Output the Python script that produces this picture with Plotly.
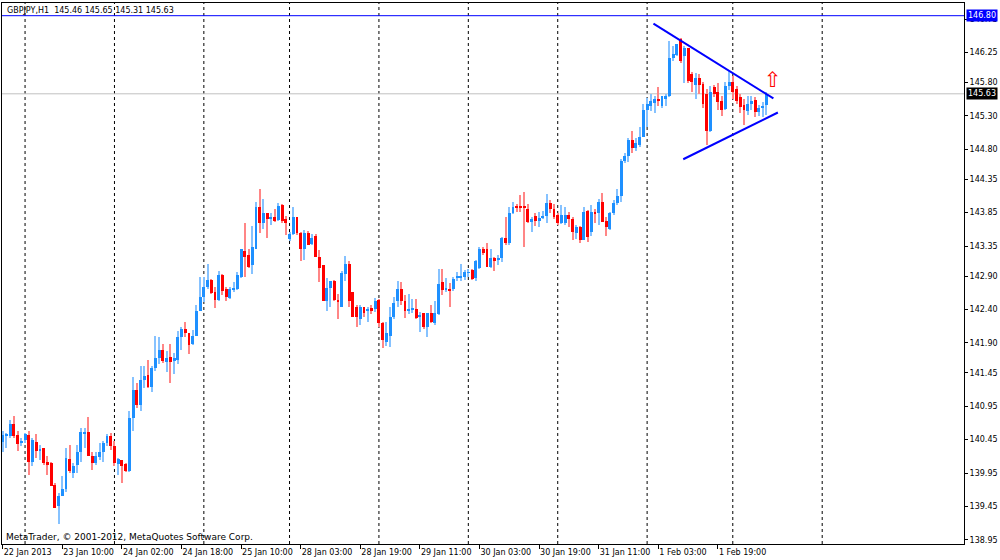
import plotly.graph_objects as go

# GBPJPY H1 candles, first bar = 22 Jan 2013 18:00
opens = [
    140.41, 140.50, 140.50, 140.69, 140.52, 140.40, 140.45, 140.52, 140.11, 140.41,
    140.28, 140.32, 140.11, 140.10, 139.77, 139.45, 139.60, 139.71, 140.16, 139.95,
    140.07, 140.27, 140.54, 140.57, 140.20, 140.10, 140.19, 140.27, 140.40, 140.50,
    140.35, 140.08, 140.14, 140.08, 139.98, 140.78, 141.19, 140.97, 141.34, 141.42,
    141.24, 141.53, 141.67, 141.80, 141.62, 141.69, 141.63, 141.65, 141.98, 142.11,
    142.04, 141.88, 142.00, 142.38, 142.58, 142.73, 142.84, 142.66, 142.54, 142.92,
    142.70, 142.57, 142.70, 142.71, 142.89, 143.27, 143.21, 143.06, 143.31, 143.94,
    143.70, 143.84, 143.76, 143.78, 143.74, 143.97, 143.75, 143.45, 143.53, 143.78,
    143.54, 143.31, 143.55, 143.38, 143.50, 143.19, 143.06, 142.52, 142.72, 142.83,
    142.54, 142.43, 142.93, 143.08, 142.66, 142.43, 142.26, 142.43, 142.37, 142.42,
    142.40, 142.54, 142.19, 141.92, 142.00, 142.29, 142.52, 142.71, 142.52, 142.38,
    142.40, 142.41, 142.28, 142.34, 142.13, 142.34, 142.19, 142.33, 142.81, 142.69,
    142.71, 142.71, 142.88, 142.88, 142.88, 142.95, 142.99, 142.87, 143.02, 143.31,
    143.31, 143.04, 143.17, 143.15, 143.17, 143.47, 143.39, 143.85, 143.94, 143.94,
    143.94, 143.90, 143.71, 143.80, 143.73, 143.77, 143.80, 143.99, 143.91, 143.81,
    143.70, 143.69, 143.82, 143.76, 143.54, 143.63, 143.44, 143.88, 143.56, 143.85,
    143.85, 144.01, 143.73, 143.60, 143.85, 144.00, 144.10, 144.63, 144.70, 144.94,
    144.82, 144.87, 144.99, 145.39, 145.45, 145.49, 145.55, 145.45, 145.55, 145.59,
    146.17, 146.21, 146.45, 146.20, 146.31, 145.92, 145.76, 145.86, 145.78, 145.62,
    145.07, 145.73, 145.66, 145.52, 145.40, 145.74, 145.81, 145.70, 145.58, 145.46,
    145.37, 145.47, 145.53, 145.36, 145.42, 145.46,
]
highs = [
    140.58, 140.55, 140.75, 140.80, 140.58, 140.47, 140.55, 140.58, 140.48, 140.53,
    140.37, 140.33, 140.20, 140.12, 139.80, 139.65, 139.90, 140.33, 140.37, 140.10,
    140.37, 140.63, 140.63, 140.79, 140.27, 140.27, 140.40, 140.43, 140.53, 140.55,
    140.43, 140.17, 140.15, 140.10, 140.88, 141.39, 141.30, 141.55, 141.55, 141.64,
    141.55, 142.00, 141.98, 141.89, 141.78, 141.88, 141.75, 142.07, 142.13, 142.21,
    142.05, 142.09, 142.46, 142.88, 142.88, 143.08, 142.86, 142.74, 142.97, 142.93,
    142.74, 142.73, 142.81, 142.96, 143.31, 143.70, 143.31, 143.65, 144.01, 144.20,
    144.05, 143.85, 143.84, 143.90, 143.99, 143.98, 143.80, 143.56, 143.94, 143.79,
    143.56, 143.59, 143.58, 143.53, 143.53, 143.29, 143.06, 142.87, 142.83, 142.84,
    142.63, 142.97, 143.20, 143.12, 142.66, 142.46, 142.46, 142.44, 142.43, 142.46,
    142.57, 142.56, 142.21, 142.21, 142.43, 142.58, 142.83, 142.81, 142.61, 142.63,
    142.55, 142.56, 142.36, 142.35, 142.35, 142.47, 142.52, 143.01, 143.01, 142.87,
    142.79, 142.88, 142.96, 143.08, 142.99, 143.00, 143.01, 143.14, 143.33, 143.33,
    143.40, 143.31, 143.18, 143.21, 143.49, 143.79, 143.93, 144.01, 143.98, 144.11,
    144.16, 143.98, 143.79, 143.85, 143.86, 143.88, 144.13, 144.04, 143.98, 143.84,
    143.96, 143.94, 143.86, 143.79, 143.66, 143.65, 143.94, 143.89, 143.96, 143.91,
    144.05, 144.15, 143.78, 143.86, 144.04, 144.20, 144.65, 144.75, 144.97, 145.08,
    144.97, 145.14, 145.47, 145.57, 145.62, 145.60, 145.73, 145.60, 145.62, 146.42,
    146.35, 146.37, 146.47, 146.35, 146.32, 145.95, 145.94, 145.92, 145.80, 145.70,
    145.75, 145.76, 145.79, 145.60, 145.80, 145.97, 145.90, 145.74, 145.62, 145.55,
    145.60, 145.60, 145.58, 145.46, 145.50, 145.65,
]
lows = [
    140.27, 140.33, 140.47, 140.48, 140.28, 140.35, 140.40, 139.92, 140.05, 140.17,
    140.15, 140.07, 139.92, 139.75, 139.42, 139.18, 139.60, 139.67, 139.95, 139.87,
    139.95, 140.12, 140.32, 140.20, 140.00, 140.07, 140.15, 140.12, 140.35, 140.30,
    140.05, 139.92, 139.80, 139.96, 139.97, 140.58, 140.93, 140.88, 141.23, 141.22,
    141.17, 141.48, 141.59, 141.60, 141.47, 141.30, 141.44, 141.59, 141.80, 141.98,
    141.73, 141.87, 142.00, 142.37, 142.51, 142.71, 142.63, 142.42, 142.53, 142.61,
    142.52, 142.56, 142.66, 142.69, 142.87, 142.89, 143.02, 142.93, 143.30, 143.55,
    143.60, 143.47, 143.66, 143.71, 143.73, 143.70, 143.51, 143.43, 143.51, 143.51,
    143.13, 143.14, 143.36, 143.37, 143.18, 142.81, 142.52, 142.37, 142.43, 142.52,
    142.26, 142.43, 142.83, 142.43, 142.28, 142.13, 142.17, 142.28, 142.21, 142.33,
    142.36, 142.13, 141.83, 141.85, 141.84, 142.26, 142.43, 142.47, 142.27, 142.33,
    142.35, 142.25, 142.06, 142.10, 141.99, 142.20, 142.16, 142.31, 142.61, 142.66,
    142.44, 142.68, 142.83, 142.83, 142.84, 142.88, 142.84, 142.83, 143.01, 143.22,
    143.03, 143.02, 142.98, 143.06, 143.11, 143.37, 143.37, 143.83, 143.86, 143.86,
    143.33, 143.70, 143.56, 143.65, 143.64, 143.75, 143.69, 143.84, 143.76, 143.66,
    143.68, 143.66, 143.64, 143.44, 143.46, 143.39, 143.44, 143.41, 143.50, 143.69,
    143.66, 143.71, 143.50, 143.59, 143.81, 143.96, 144.01, 144.60, 144.61, 144.75,
    144.78, 144.84, 144.98, 145.14, 145.37, 145.35, 145.44, 145.42, 145.45, 145.58,
    146.12, 146.20, 146.09, 145.79, 145.79, 145.66, 145.55, 145.62, 145.42, 144.86,
    145.06, 145.58, 145.38, 145.30, 145.38, 145.68, 145.55, 145.48, 145.34, 145.16,
    145.32, 145.38, 145.29, 145.30, 145.28, 145.31,
]
closes = [
    140.52, 140.53, 140.69, 140.50, 140.38, 140.43, 140.53, 140.11, 140.45, 140.28,
    140.30, 140.10, 140.07, 139.76, 139.43, 139.60, 139.71, 140.17, 139.98, 140.05,
    140.27, 140.57, 140.57, 140.20, 140.10, 140.20, 140.27, 140.40, 140.50, 140.35,
    140.10, 140.16, 140.06, 139.98, 140.78, 141.20, 140.97, 141.34, 141.40, 141.24,
    141.53, 141.67, 141.80, 141.63, 141.68, 141.62, 141.67, 141.98, 142.11, 142.04,
    141.87, 142.00, 142.38, 142.58, 142.74, 142.84, 142.64, 142.54, 142.92, 142.68,
    142.58, 142.71, 142.72, 142.92, 143.31, 143.18, 143.04, 143.33, 143.94, 143.70,
    143.84, 143.76, 143.78, 143.73, 143.95, 143.73, 143.70, 143.53, 143.79, 143.54,
    143.30, 143.55, 143.37, 143.47, 143.19, 143.02, 142.52, 142.72, 142.82, 142.54,
    142.52, 142.94, 143.08, 142.52, 142.28, 142.29, 142.44, 142.34, 142.41, 142.38,
    142.52, 142.19, 141.94, 142.05, 142.29, 142.50, 142.71, 142.52, 142.38, 142.41,
    142.42, 142.27, 142.32, 142.13, 142.34, 142.21, 142.34, 142.78, 142.69, 142.72,
    142.69, 142.86, 142.90, 142.89, 142.96, 142.96, 142.86, 143.13, 143.31, 143.24,
    143.04, 143.17, 143.12, 143.17, 143.47, 143.39, 143.85, 143.93, 143.92, 143.92,
    143.92, 143.71, 143.76, 143.73, 143.77, 143.80, 143.99, 143.91, 143.79, 143.70,
    143.82, 143.81, 143.76, 143.56, 143.63, 143.44, 143.86, 143.49, 143.86, 143.83,
    144.01, 143.71, 143.64, 143.85, 144.00, 144.10, 144.63, 144.70, 144.94, 144.82,
    144.89, 144.99, 145.39, 145.47, 145.52, 145.55, 145.52, 145.59, 145.59, 146.17,
    146.23, 146.37, 146.12, 146.31, 145.82, 145.80, 145.86, 145.76, 145.48, 145.07,
    145.66, 145.63, 145.50, 145.39, 145.74, 145.80, 145.66, 145.52, 145.43, 145.39,
    145.47, 145.52, 145.36, 145.42, 145.44, 145.63,
]
bars = list(range(len(closes)))

# bottom time scale (bar index -> label)
time_tick_bars = [0, 16, 32, 48, 64, 80, 96, 112, 128, 144, 160, 176, 192]
time_tick_labels = [
    "22 Jan 2013", "23 Jan 10:00", "24 Jan 02:00", "24 Jan 18:00", "25 Jan 10:00",
    "28 Jan 03:00", "28 Jan 19:00", "29 Jan 11:00", "30 Jan 03:00", "30 Jan 19:00",
    "31 Jan 11:00", "1 Feb 03:00", "1 Feb 19:00",
]
# first bar of each trading day (vertical separators)
day_start_bars = [6, 30, 54, 77, 101, 125, 149, 173, 196, 220]
price_ticks = [138.95, 139.45, 139.95, 140.45, 140.95, 141.45, 141.90, 142.40, 142.90,
               143.35, 143.85, 144.35, 144.80, 145.30, 145.80, 146.25, 146.75]

level_price = 146.80
last_price = 145.63
title_text = "GBPJPY,H1  145.46 145.65 145.31 145.63"

# triangle drawn on the chart: (bar, price) end points
upper_line_bars = [174.7, 206.9]
upper_line_prices = [146.68, 145.56]
lower_line_bars = [182.7, 208.1]
lower_line_prices = [144.65, 145.35]
arrow_bar, arrow_price = 206.8, 145.84

FONT = "DejaVu Sans"

up = [c >= o for o, c in zip(opens, closes)]
body_base = [min(o, c) for o, c in zip(opens, closes)]
body_size = [max(abs(c - o), 0.01) for o, c in zip(opens, closes)]
wick_size = [h - l for h, l in zip(highs, lows)]
wick_colors = ["#86c2ff" if u else "#ff8686" for u in up]
body_colors = ["#1e90ff" if u else "#ff0000" for u in up]

fig = go.Figure()

# wicks
fig.add_trace(go.Bar(
    x=bars, y=wick_size, base=lows, width=0.28,
    marker=dict(color=wick_colors, line_width=0),
    hoverinfo="skip"
))
# bodies
fig.add_trace(go.Bar(
    x=bars, y=body_size, base=body_base, width=0.78,
    marker=dict(color=body_colors, line_width=0),
    customdata=list(zip(opens, highs, lows, closes)),
    hovertemplate="O %{customdata[0]:.2f}<br>H %{customdata[1]:.2f}"
                  "<br>L %{customdata[2]:.2f}<br>C %{customdata[3]:.2f}<extra></extra>"
))

# triangle lines
for xs, ys in [(upper_line_bars, upper_line_prices), (lower_line_bars, lower_line_prices)]:
    fig.add_trace(go.Scatter(
        x=xs, y=ys, mode="lines",
        line=dict(color="#0000ff", width=2),
        hoverinfo="skip"
    ))

# day separators
for b in day_start_bars:
    fig.add_vline(x=b, line=dict(color="black", width=1, dash="3px,3px"), layer="below")

# horizontal level + bid line
fig.add_hline(y=level_price, line=dict(color="#0000ff", width=1), layer="below")
fig.add_hline(y=last_price, line=dict(color="#c0c0c0", width=1), layer="below")

# price boxes on the scale
for price, bg in [(level_price, "#0000ff"), (last_price, "black")]:
    fig.add_annotation(
        x=1, xref="paper", xanchor="left", xshift=2,
        y=price, yref="y", yanchor="middle",
        text=f"{price:.2f}", showarrow=False,
        font=dict(family=FONT, size=8, color="white"),
        bgcolor=bg, borderpad=1
    )

fig.add_annotation(
    x=arrow_bar, y=arrow_price, text="⇧", showarrow=False,
    font=dict(family=FONT, size=21, color="red")
)

fig.add_annotation(
    x=0, xref="paper", xanchor="left", xshift=3,
    y=1, yref="paper", yanchor="top", yshift=-1,
    text=title_text, showarrow=False,
    font=dict(family=FONT, size=8, color="black")
)
fig.add_annotation(
    x=0, xref="paper", xanchor="left", xshift=2,
    y=0, yref="paper", yanchor="bottom", yshift=0,
    text="MetaTrader, © 2001-2012, MetaQuotes Software Corp.", showarrow=False,
    font=dict(family=FONT, size=9, color="black")
)

fig.update_layout(
    width=1000, height=560,
    margin=dict(l=2, r=36, t=3, b=16, pad=0),
    paper_bgcolor="white", plot_bgcolor="white",
    barmode="overlay", bargap=0,
    showlegend=False,
    font=dict(family=FONT, size=8, color="black"),
    xaxis=dict(
        range=[-0.19, 258.07],
        tickvals=time_tick_bars, ticktext=time_tick_labels,
        ticklabelposition="outside right", tickangle=0,
        ticks="outside", ticklen=4, tickcolor="black",
        showgrid=False, zeroline=False,
        showline=True, mirror=True, linecolor="black", linewidth=1,
        fixedrange=True
    ),
    yaxis=dict(
        side="right",
        range=[138.887, 146.99],
        tickvals=price_ticks, tickformat=".2f",
        ticks="outside", ticklen=3, tickcolor="black",
        showgrid=False, zeroline=False,
        showline=True, mirror=True, linecolor="black", linewidth=1,
        fixedrange=True
    ),
)

# drop the default page margin so the chart sits at the window's top-left corner
fig.write_html(
    "out.html",
    config={"displayModeBar": False},
    post_script="document.body.style.margin='0';"
)
